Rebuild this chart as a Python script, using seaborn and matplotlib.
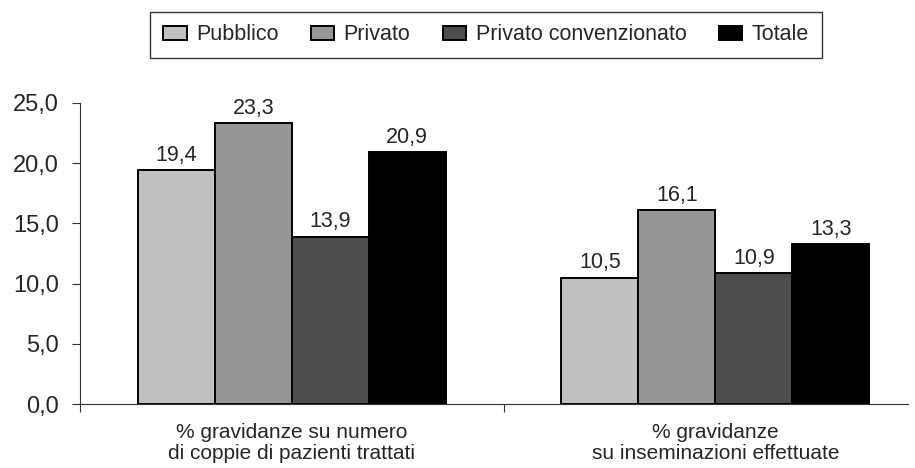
import matplotlib
matplotlib.use("Agg")
import matplotlib.pyplot as plt
import seaborn as sns
import pandas as pd
from matplotlib.ticker import FixedLocator, FuncFormatter

# Data
categories = [
    "% gravidanze su numero\ndi coppie di pazienti trattati",
    "% gravidanze\nsu inseminazioni effettuate",
]
series = ["Pubblico", "Privato", "Privato convenzionato", "Totale"]
pubblico = [19.4, 10.5]
privato = [23.3, 16.1]
privato_conv = [13.9, 10.9]
totale = [20.9, 13.3]
yticks = [0, 5, 10, 15, 20, 25]

colors = ["#c0c0c0", "#969696", "#4d4d4d", "#000000"]

rows = []
for name, vals in zip(series, [pubblico, privato, privato_conv, totale]):
    for cat, v in zip(categories, vals):
        rows.append({"categoria": cat, "settore": name, "valore": v})
df = pd.DataFrame(rows)

sns.set_style("white")
plt.rcParams["font.family"] = ["Liberation Sans", "DejaVu Sans"]

fig = plt.figure(figsize=(9.15, 4.68), dpi=100)
ax = fig.add_axes([80 / 915, 1 - 404 / 468, 828 / 915, 301 / 468])

sns.barplot(
    data=df, x="categoria", y="valore", hue="settore",
    order=categories, hue_order=series, palette=colors,
    width=0.727, edgecolor="black", linewidth=1.4, saturation=1,
    ax=ax, legend=True,
)

def fmt(v):
    return f"{v:.1f}".replace(".", ",")

for cont in ax.containers:
    ax.bar_label(cont, labels=[fmt(b.get_height()) for b in cont],
                 padding=3, fontsize=15.5)

ax.set_ylim(0, 25)
ax.set_xlim(-0.5, 1.455)
ax.yaxis.set_major_locator(FixedLocator(yticks))
ax.yaxis.set_major_formatter(FuncFormatter(lambda v, p: fmt(v)))
ax.tick_params(axis="y", which="major", left=True, length=6, width=0.8,
               labelsize=17, color="#333333", pad=9)
ax.tick_params(axis="x", which="major", bottom=False, length=0,
               labelsize=15, pad=14)
ax.set_xticks([0, 1])
ax.set_xticklabels(categories, linespacing=1.1)
ax.set_xticks([-0.5, 0.5], minor=True)
ax.tick_params(axis="x", which="minor", bottom=True, length=6, width=0.8,
               color="#333333")
ax.set_xlabel("")
ax.set_ylabel("")

for s in ["top", "right"]:
    ax.spines[s].set_visible(False)
for s in ["left", "bottom"]:
    ax.spines[s].set_color("#333333")
    ax.spines[s].set_linewidth(0.8)

handles, labels = ax.get_legend_handles_labels()
ax.get_legend().remove()
leg = fig.legend(
    handles, labels, ncol=4, loc="center",
    bbox_to_anchor=(486 / 915, 1 - 35 / 468),
    fontsize=15.5, frameon=True, fancybox=False, edgecolor="black",
    handlelength=1.1, handleheight=0.57, handletextpad=0.43,
    columnspacing=1.5, borderpad=0.6,
)
leg.get_frame().set_linewidth(1.0)

fig.savefig("out.png", dpi=100)
